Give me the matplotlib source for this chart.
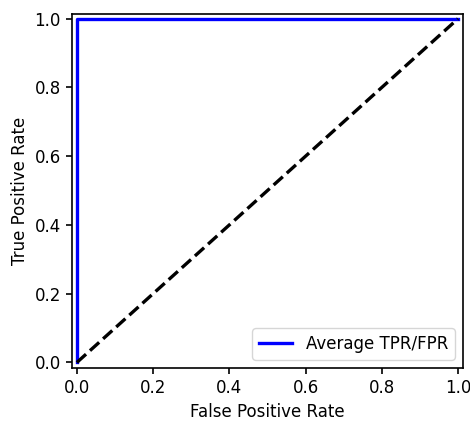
import matplotlib
matplotlib.use("Agg")
import matplotlib.pyplot as plt

fpr = [0.0, 0.0, 1.0]
tpr = [0.0, 1.0, 1.0]
diag_x = [0.0, 1.0]
diag_y = [0.0, 1.0]

plt.rcParams["font.size"] = 12
plt.rcParams["axes.linewidth"] = 1.2
plt.rcParams["xtick.major.width"] = 1.2
plt.rcParams["ytick.major.width"] = 1.2
plt.rcParams["xtick.major.size"] = 4.5
plt.rcParams["ytick.major.size"] = 4.5

fig = plt.figure(figsize=(4.7, 4.21), dpi=100)
ax = fig.add_axes([0.153, 0.126, 0.832, 0.841])
ax.plot(fpr, tpr, color="blue", lw=2.4, label="Average TPR/FPR")
ax.plot(diag_x, diag_y, "k--", lw=2.4)
ax.set_xlim(-0.013, 1.013)
ax.set_ylim(-0.016, 1.014)
ax.set_xlabel("False Positive Rate")
ax.set_ylabel("True Positive Rate")
ax.legend(loc="lower right")
fig.savefig("out.png", dpi=100)
